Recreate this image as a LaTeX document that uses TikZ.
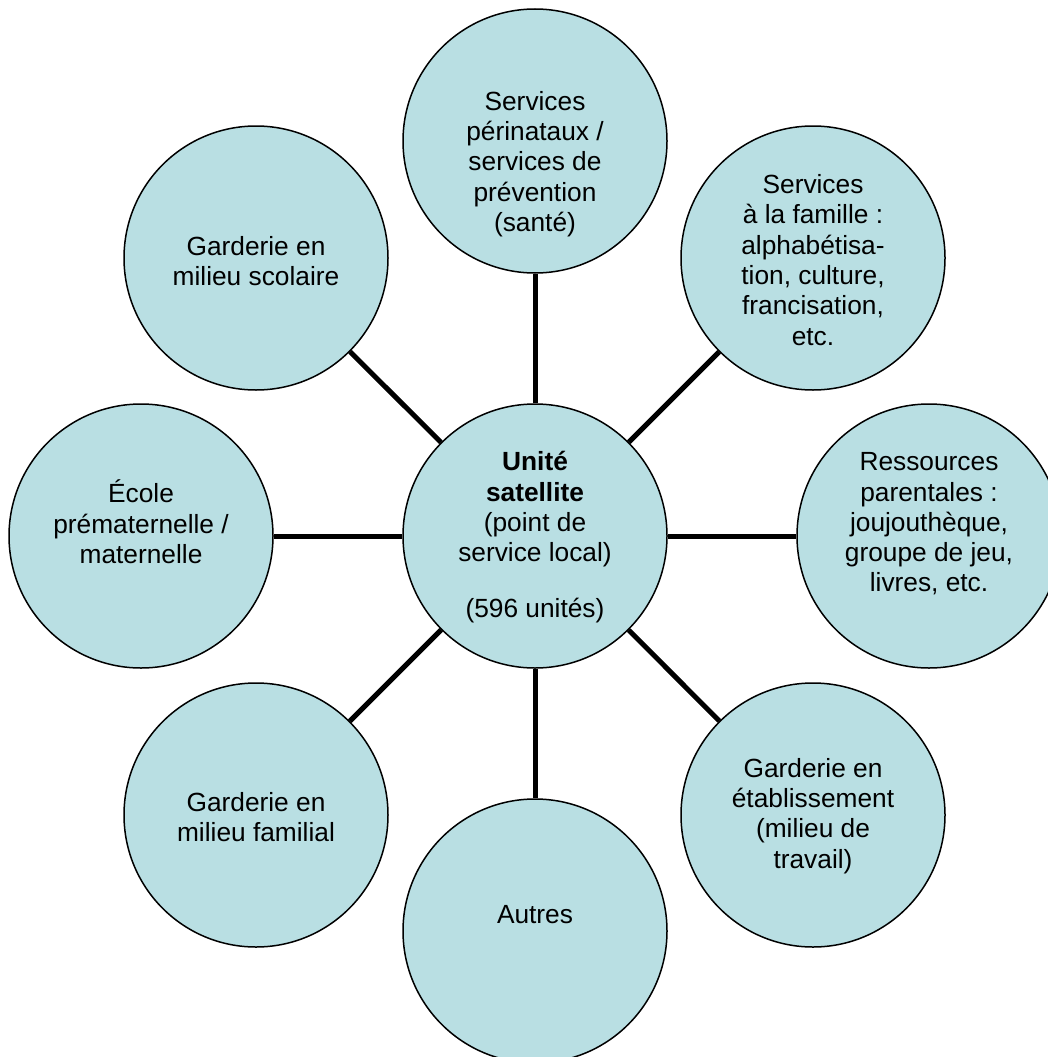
\documentclass[tikz,border=0pt]{standalone}
\usepackage{fontspec}
\setmainfont{Liberation Sans}
\definecolor{bubble}{RGB}{185,223,227}
\begin{document}
\begin{tikzpicture}[x=1pt,y=1pt,
  bub/.style={circle,draw=black,line width=1.5pt,fill=bubble,minimum size=264pt,inner sep=0pt},
  txt/.style={align=center,inner sep=0pt,font=\fontsize{26.3}{30.3}\selectfont},
  link/.style={line width=5pt}]
\useasboundingbox (0,0) rectangle (1047,-1057);
% circles
\node[bub] (c)  at (535,-536) {};
\node[bub] (t)  at (535,-141) {};
\node[bub] (tr) at (813,-258) {};
\node[bub] (r)  at (929,-536) {};
\node[bub] (br) at (813,-815) {};
\node[bub] (b)  at (535,-931) {};
\node[bub] (bl) at (256,-815) {};
\node[bub] (l)  at (141,-536) {};
\node[bub] (tl) at (256,-258) {};
% connectors
\foreach \s in {t,tr,r,br,b,bl,l,tl} \draw[link] (c) -- (\s);
% texts
\node[txt] (ct)  at (535,-537) {\textbf{Unité}\\\textbf{satellite}\\(point de\\service local)\\[25pt](596 unités)};
\node[txt] (tt)  at (535,-164) {Services\\périnataux /\\services de\\prévention\\(santé)};
\node[txt] (trt) at (813,-260) {Services\\à la famille :\\alphabétisa-\\tion, culture,\\francisation,\\etc.};
\node[txt] (rt)  at (929,-524) {Ressources\\parentales :\\joujouthèque,\\groupe de jeu,\\livres, etc.};
\node[txt] (brt) at (813,-816) {Garderie en\\établissement\\(milieu de\\travail)};
\node[txt] (bt)  at (535,-915) {Autres};
\node[txt] (blt) at (256,-817) {Garderie en\\milieu familial};
\node[txt] (lt)  at (141,-522) {École\\prématernelle /\\maternelle};
\node[txt] (tlt) at (256,-261) {Garderie en\\milieu scolaire};
\end{tikzpicture}
\end{document}
